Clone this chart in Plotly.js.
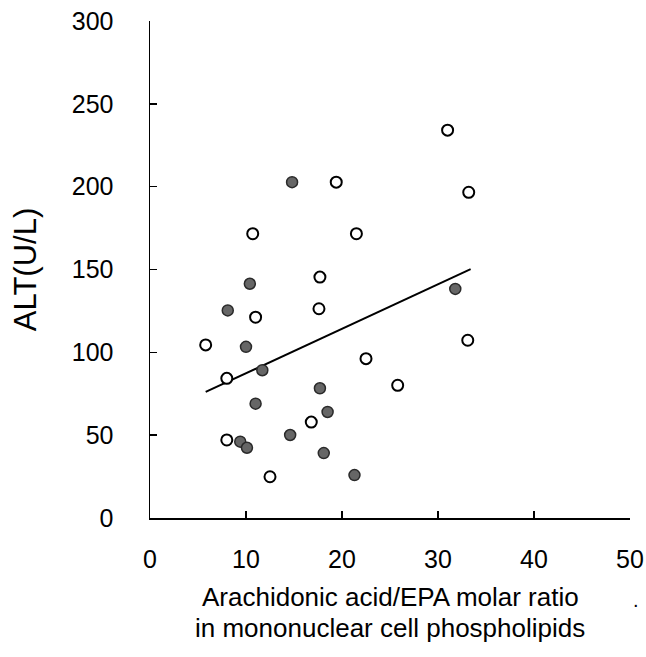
<!DOCTYPE html>
<html>
<head>
<meta charset="utf-8">
<script src="https://cdn.plot.ly/plotly-3.0.1.min.js"></script>
<style>html,body{margin:0;padding:0;background:#fff;}#chart{width:646px;height:657px;}</style>
</head>
<body>
<div id="chart"></div>
<script>
// Open circles
var openX = [19.4, 10.7, 21.5, 31.0, 33.2, 33.1, 17.7, 17.6, 11.0, 5.8, 22.5, 8.0, 25.8, 16.8, 8.0, 12.5];
var openY = [202.7, 171.6, 171.6, 234.1, 196.6, 107.3, 145.4, 126.3, 121.2, 104.5, 96.2, 84.3, 80.1, 57.9, 47.1, 24.9];
// Filled circles
var filledX = [14.8, 31.8, 10.4, 8.1, 10.0, 11.7, 17.7, 11.0, 18.5, 14.6, 9.4, 10.1, 18.1, 21.3];
var filledY = [202.7, 138.3, 141.4, 125.3, 103.3, 89.2, 78.3, 69.0, 64.0, 50.1, 46.1, 42.4, 39.2, 25.9];
// Regression line end points
var lineX = [5.8, 33.4];
var lineY = [76.1, 150.2];

var xTicks = [0, 10, 20, 30, 40, 50];
var yTicks = [0, 50, 100, 150, 200, 250, 300];

var xTitleLines = ['Arachidonic acid/EPA molar ratio', 'in mononuclear cell phospholipids'];
var yTitle = 'ALT(U/L)';

var FONT = 'Liberation Sans, Arial, sans-serif';

var traces = [
  {x: lineX, y: lineY, type: 'scatter', mode: 'lines',
   line: {color: '#000', width: 2}, hoverinfo: 'skip', cliponaxis: false},
  {x: openX, y: openY, type: 'scatter', mode: 'markers', cliponaxis: false,
   marker: {symbol: 'circle', size: 11, color: '#ffffff', line: {color: '#000', width: 2}}},
  {x: filledX, y: filledY, type: 'scatter', mode: 'markers', cliponaxis: false,
   marker: {symbol: 'circle', size: 11, color: '#666666', line: {color: '#2a2a2a', width: 1.5}}}
];

var layout = {
  width: 646, height: 657,
  margin: {l: 150, r: 16, t: 21, b: 139},
  paper_bgcolor: '#fff', plot_bgcolor: '#fff',
  showlegend: false,
  font: {family: FONT, color: '#000'},
  xaxis: {
    range: [0, 50], tickvals: xTicks, ticktext: xTicks.map(String),
    showline: true, linecolor: '#000', linewidth: 1.5, mirror: false,
    ticks: 'inside', ticklen: 7, tickwidth: 1.5, tickcolor: '#000',
    showgrid: false, zeroline: false, ticklabelstandoff: 18,
    tickfont: {family: FONT, size: 25, color: '#000'}
  },
  yaxis: {
    range: [0, 300], tickvals: yTicks, ticktext: yTicks.map(String),
    showline: true, linecolor: '#000', linewidth: 1.5, mirror: false,
    ticks: 'inside', ticklen: 7, tickwidth: 1.5, tickcolor: '#000',
    showgrid: false, zeroline: false, ticklabelstandoff: 30,
    tickfont: {family: FONT, size: 25, color: '#000'},
    title: {text: yTitle, font: {family: FONT, size: 31, color: '#000'}, standoff: 26}
  },
  annotations: [
    {text: xTitleLines[0], xref: 'paper', yref: 'paper', x: 0.5, y: -0.159, xanchor: 'center', yanchor: 'middle',
     showarrow: false, font: {family: FONT, size: 26, color: '#000'}},
    {text: xTitleLines[1], xref: 'paper', yref: 'paper', x: 0.5, y: -0.2213, xanchor: 'center', yanchor: 'middle',
     showarrow: false, font: {family: FONT, size: 26, color: '#000'}},
    {text: '.', xref: 'paper', yref: 'paper', x: 1.013, y: -0.1388, xanchor: 'center', yanchor: 'top',
     showarrow: false, font: {family: FONT, size: 20, color: '#000'}}
  ]
};

Plotly.newPlot('chart', traces, layout, {displayModeBar: false, staticPlot: true});
</script>
</body>
</html>
